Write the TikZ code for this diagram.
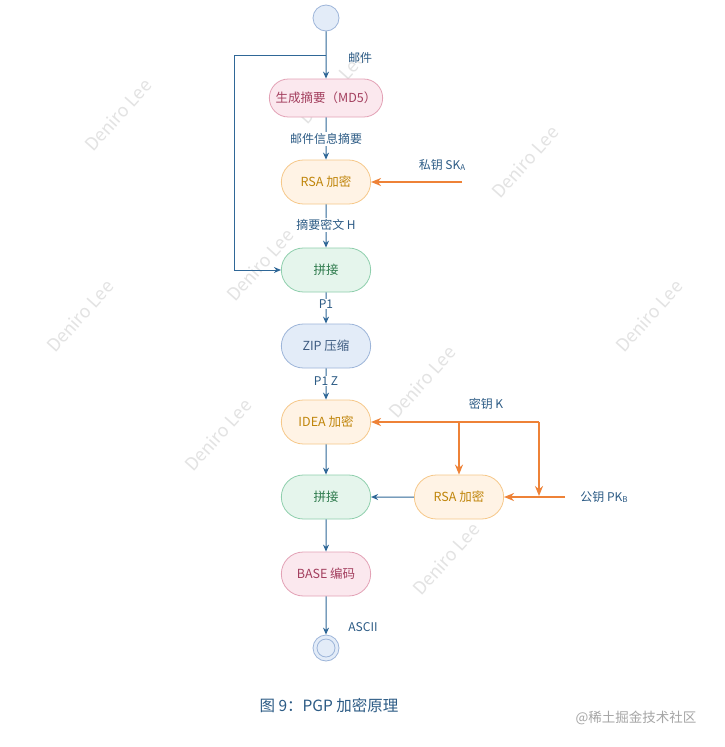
\documentclass[tikz,border=0pt]{standalone}
\usepackage{fontspec}
\setmainfont{Noto Sans CJK SC}
\definecolor{flowblue}{HTML}{2F6797}
\definecolor{labelblue}{HTML}{2C5B85}
\definecolor{keyorange}{HTML}{EE8237}
\definecolor{pinkfill}{HTML}{FBE8EE}
\definecolor{pinkdraw}{HTML}{E3A2B6}
\definecolor{pinktext}{HTML}{A33E5E}
\definecolor{orangefill}{HTML}{FFF3E5}
\definecolor{orangedraw}{HTML}{F6C88A}
\definecolor{orangetext}{HTML}{C0850A}
\definecolor{greenfill}{HTML}{E5F5EC}
\definecolor{greendraw}{HTML}{8FCFAD}
\definecolor{greentext}{HTML}{2D7A4C}
\definecolor{bluefill}{HTML}{E3ECF8}
\definecolor{bluedraw}{HTML}{9DB5D9}
\definecolor{bluetext}{HTML}{3C5A80}
\usetikzlibrary{arrows.meta,positioning,shapes.misc}
\tikzset{
  stepnode/.style={rounded rectangle,minimum width=96pt,minimum height=44pt,line width=0.8pt,font=\fontsize{12.5}{14}\selectfont},
  pinkstep/.style={stepnode,fill=pinkfill,draw=pinkdraw,text=pinktext},
  orangestep/.style={stepnode,fill=orangefill,draw=orangedraw,text=orangetext},
  greenstep/.style={stepnode,fill=greenfill,draw=greendraw,text=greentext},
  bluestep/.style={stepnode,fill=bluefill,draw=bluedraw,text=bluetext},
  enddot/.style={circle,minimum size=26pt,inner sep=0pt,fill=bluefill,draw=bluedraw,line width=0.8pt},
  flow/.style={draw=flowblue,line width=1pt,-{Stealth[length=7pt,width=6pt]}},
  keyflow/.style={draw=keyorange,line width=1.8pt,-{Stealth[length=10pt,width=8pt]}},
  tag/.style={text=labelblue,font=\fontsize{12}{14}\selectfont},
  linetag/.style={tag,fill=white,inner sep=1pt},
  wmark/.style={text=black!11,rotate=48,font=\fontsize{18}{20}\selectfont}
}
\newcommand{\lowsub}[1]{\raisebox{-0.2ex}{\fontsize{8}{9}\selectfont #1}}
\begin{document}
\begin{tikzpicture}[x=1pt,y=-1pt]
  \useasboundingbox[fill=white] (0,0) rectangle (724,747);
  % watermark
  \foreach \wx/\wy in {118/115,332/88,525/162,260/265,80/316,649/316,422/382,218/435,446/559}
    \node[wmark] at (\wx,\wy) {Deniro Lee};
  % start and end
  \node[enddot] (start) at (326,18) {};
  \node[enddot] (finish) at (326,648) {};
  \draw[bluedraw,line width=0.8pt] (finish) circle (9pt);
  % steps
  \node[pinkstep,minimum width=120pt,minimum height=38pt] (md5) at (326,98) {生成摘要（MD5）};
  \node[orangestep] (rsa1) at (326,182) {RSA 加密};
  \node[greenstep] (join1) at (326,270) {拼接};
  \node[bluestep] (zip) at (326,346) {ZIP 压缩};
  \node[orangestep] (idea) at (326,422) {IDEA 加密};
  \node[greenstep] (join2) at (326,497) {拼接};
  \node[orangestep] (rsa2) at (459,497) {RSA 加密};
  \node[pinkstep] (base) at (326,574) {BASE 编码};
  % main flow
  \coordinate (split) at (326,55);
  \coordinate (loop) at (234,270);
  \draw[flow] (start) -- (md5);
  \draw[flow] (split) -| (loop) -- (join1.west);
  \draw[flow] (md5) -- (rsa1);
  \draw[flow] (rsa1) -- (join1);
  \draw[flow] (join1) -- (zip);
  \draw[flow] (zip) -- (idea);
  \draw[flow] (idea) -- (join2);
  \draw[flow] (rsa2) -- (join2);
  \draw[flow] (join2) -- (base);
  \draw[flow] (base) -- (finish);
  % keys
  \coordinate (skin) at (462,182);
  \coordinate (kright) at (539,422);
  \coordinate (kbranch) at (459,422);
  \coordinate (kdrop) at (539,496);
  \coordinate (pkin) at (565,497);
  \draw[keyflow] (skin) -- (rsa1.east);
  \draw[keyflow] (kright) -- (idea.east);
  \draw[keyflow] (kbranch) -- (rsa2.north);
  \draw[keyflow] (kright) -- (kdrop);
  \draw[keyflow] (pkin) -- (rsa2.east);
  % labels
  \node[tag] (mail) at (360,58) {邮件};
  \node[linetag] (digest) at (326,139) {邮件信息摘要};
  \node[tag] (ska) at (442,165) {私钥 SK\lowsub{A}};
  \node[linetag] (cipher) at (326,225) {摘要密文 H};
  \node[linetag] (p1) at (326,304) {P1};
  \node[linetag] (p1z) at (326,381) {P1 Z};
  \node[tag] (keyk) at (486,404) {密钥 K};
  \node[tag] (pkb) at (604,497) {公钥 PK\lowsub{B}};
  \node[tag] (ascii) at (363,627) {ASCII};
  % caption
  \node[text=labelblue,font=\fontsize{15.5}{18}\selectfont] (caption) at (329,706) {图 9：PGP 加密原理};
  \node[text=black!35,font=\fontsize{13.5}{16}\selectfont] (site) at (636,718) {@稀土掘金技术社区};
\end{tikzpicture}
\end{document}
